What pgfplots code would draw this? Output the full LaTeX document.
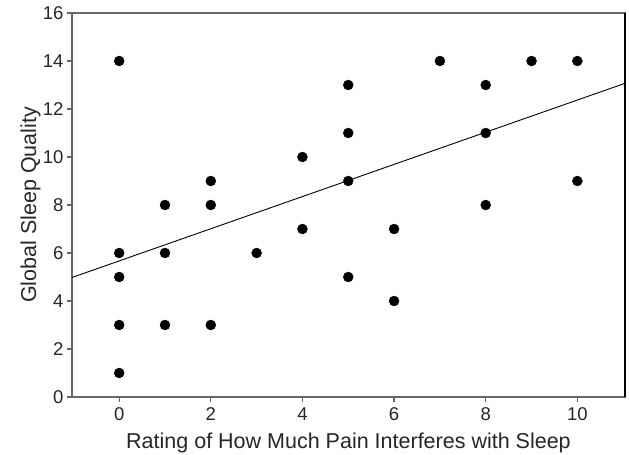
\documentclass[border=0pt]{standalone}
\usepackage{fontspec}
\setmainfont{Liberation Sans}
\usepackage{pgfplots}
\pgfplotsset{compat=1.18}
\begin{document}
\begin{tikzpicture}
\begin{axis}[
  scale only axis,
  width=553pt, height=384pt,
  xmin=-1.03, xmax=11.04,
  ymin=0, ymax=16,
  xtick={0,2,4,6,8,10},
  ytick={0,2,4,6,8,10,12,14,16},
  /pgf/number format/assume math mode=true,
  tick label style={font=\fontsize{18.5}{20}\selectfont, color=black!85},
  label style={font=\fontsize{21.5}{24}\selectfont, color=black!85},
  xticklabel style={yshift=-2pt},
  xlabel={Rating of How Much Pain Interferes with Sleep},
  ylabel={Global Sleep Quality},
  xlabel style={at={(axis description cs:0.5,-0.1354)}, anchor=base, inner sep=0pt},
  ylabel style={at={(axis description cs:-0.0651,0.5)}, anchor=base, inner sep=0pt},
  tick align=outside,
  xtick pos=bottom, ytick pos=left,
  major tick length=5pt,
  tick style={black!60, line width=1.2pt},
  axis line style={black!60, line width=1.2pt},
  clip=false,
]
\addplot[only marks, mark=*, mark size=5pt, black] coordinates {
(0,14) (0,6) (0,5) (0,3) (0,1)
(1,8) (1,6) (1,3)
(2,9) (2,8) (2,3)
(3,6)
(4,10) (4,7)
(5,13) (5,11) (5,9) (5,5)
(6,7) (6,4)
(7,14)
(8,13) (8,11) (8,8)
(9,14)
(10,14) (10,9)
};
\addplot[black, line width=0.9pt] coordinates {(-1.03,4.98) (11.04,13.07)};
\end{axis}
\draw[black, line width=2pt] (current axis.south east) -- (current axis.north east);
\pgfresetboundingbox
\path ([shift={(-72pt,-58pt)}]current axis.south west) rectangle ([shift={(4pt,13pt)}]current axis.north east);
\end{tikzpicture}
\end{document}
